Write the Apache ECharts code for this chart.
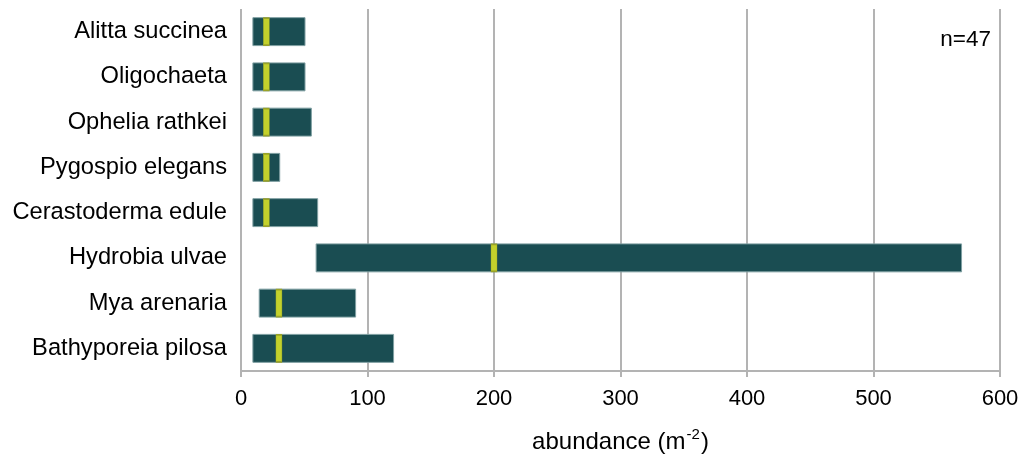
<!DOCTYPE html>
<html>
<head>
<meta charset="utf-8">
<script src="https://cdn.jsdelivr.net/npm/echarts@6/dist/echarts.min.js"></script>
<style>html,body{margin:0;padding:0;background:#fff;}#c{width:1020px;height:455px;}</style>
</head>
<body>
<div id="c"></div>
<script>
const categories = ['Alitta succinea','Oligochaeta','Ophelia rathkei','Pygospio elegans','Cerastoderma edule','Hydrobia ulvae','Mya arenaria','Bathyporeia pilosa'];
const minValues = [9, 9, 9, 9, 9, 59, 14, 9];
const maxValues = [51, 51, 56, 31, 61, 570, 91, 121];
const medianValues = [20, 20, 20, 20, 20, 200, 30, 30];
const xTicks = [0, 100, 200, 300, 400, 500, 600];
const sampleLabel = 'n=47';

const FONT = '"Liberation Sans", Arial, Helvetica, sans-serif';
const chart = echarts.init(document.getElementById('c'), null, {renderer: 'canvas'});
const rangeData = categories.map((c, i) => maxValues[i] - minValues[i]);
const medianData = categories.map((c, i) => [medianValues[i], c]);

chart.setOption({
  animation: false,
  backgroundColor: '#fff',
  grid: {left: 241, right: 20, top: 9, bottom: 84, containLabel: false, outerBoundsMode: 'none'},
  xAxis: {
    type: 'value', min: xTicks[0], max: xTicks[xTicks.length - 1], interval: 100,
    axisLine: {show: true, lineStyle: {color: '#b3b3b3', width: 2}},
    axisTick: {show: true, length: 6, lineStyle: {color: '#b3b3b3', width: 2}},
    splitLine: {show: true, lineStyle: {color: '#b3b3b3', width: 2}},
    axisLabel: {color: '#000', fontFamily: FONT, fontSize: 22, margin: 17},
    name: '{t|abundance (m}{s|-2}{t|)}',
    nameLocation: 'middle', nameGap: 56,
    nameTextStyle: {
      rich: {
        t: {fontFamily: FONT, fontSize: 24, color: '#000', verticalAlign: 'bottom'},
        s: {fontFamily: FONT, fontSize: 15, color: '#000', verticalAlign: 'top', padding: [0, 1, 12, 1]}
      }
    }
  },
  yAxis: {
    type: 'category', data: categories, inverse: true,
    axisLine: {show: false}, axisTick: {show: false}, splitLine: {show: false},
    axisLabel: {color: '#000', fontFamily: FONT, fontSize: 23.7, margin: 14, padding: [3, 0, 0, 0]}
  },
  series: [
    {type: 'bar', stack: 'r', data: minValues, itemStyle: {color: 'transparent'}, barWidth: '64%', silent: true},
    {type: 'bar', stack: 'r', data: rangeData, barWidth: '64%',
     itemStyle: {color: '#1a4d52', borderColor: '#7f9fa2', borderWidth: 1}},
    {type: 'scatter', data: medianData, symbol: 'rect', symbolSize: [6, 27], z: 5,
     itemStyle: {color: '#c3d12c', borderColor: '#9aa328', borderWidth: 0.8, opacity: 1}}
  ],
  graphic: [{
    type: 'text', right: 29, top: 28,
    style: {text: sampleLabel, font: '22.5px ' + FONT, fill: '#000'}
  }]
});
</script>
</body>
</html>
